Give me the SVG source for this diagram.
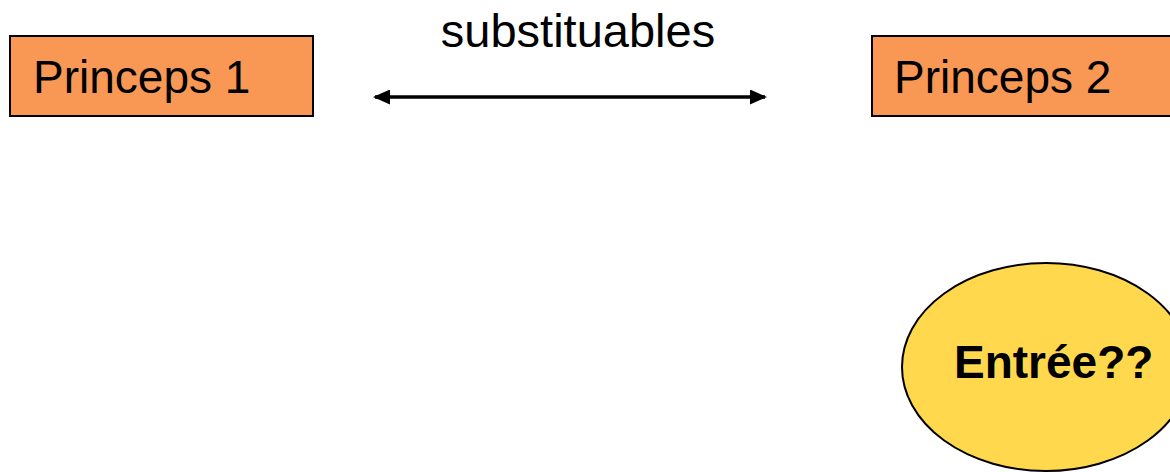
<svg xmlns="http://www.w3.org/2000/svg" width="1170" height="472" viewBox="0 0 1170 472">
<style>
.box{fill:#F99855;stroke:#000;stroke-width:2}
.ell{fill:#FFD84D;stroke:#000;stroke-width:2}
.t{font-family:"Liberation Sans",Arial,sans-serif;font-size:46px;fill:#000}
.b{font-weight:bold}
.conn{stroke:#000;stroke-width:3.5;fill:none}
</style>
<defs>
<marker id="ah" viewBox="0 0 17 15" refX="15" refY="7.5" markerWidth="17" markerHeight="15" orient="auto-start-reverse" markerUnits="userSpaceOnUse">
<path d="M0,0 L17,7.5 L0,15 Z" fill="#000"/>
</marker>
</defs>
<rect width="1170" height="472" fill="#fff"/>
<g id="princeps1">
<rect class="box" x="10" y="36" width="303" height="80"/>
<text class="t" x="33" y="93">Princeps 1</text>
</g>
<g id="princeps2">
<rect class="box" x="872" y="36" width="310" height="80"/>
<text class="t" x="894" y="93">Princeps 2</text>
</g>
<g id="entree">
<ellipse class="ell" cx="1046" cy="367" rx="144" ry="104"/>
<text class="t b" x="954" y="378">Entrée??</text>
</g>
<g id="connectors">
<line class="conn" x1="375" y1="97" x2="765" y2="97" marker-start="url(#ah)" marker-end="url(#ah)"/>
<text class="t" x="578" y="47" text-anchor="middle" style="font-size:47px">substituables</text>
</g>
</svg>
